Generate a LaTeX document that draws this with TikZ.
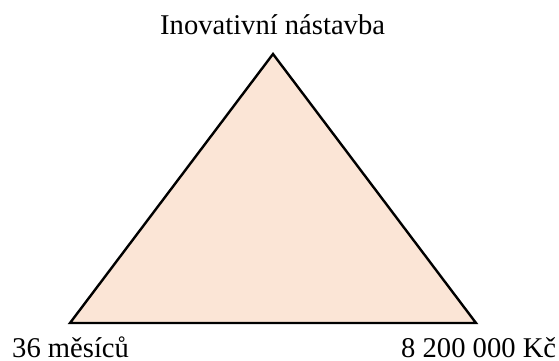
\documentclass[tikz,border=0pt]{standalone}
\usepackage{fontspec}
\setmainfont{Liberation Serif}
\definecolor{peach}{HTML}{FBE5D6}
\begin{document}
\begin{tikzpicture}[x=1pt,y=1pt,
  lbl/.style={inner sep=0pt,font=\fontsize{28.6}{32}\selectfont}]
\useasboundingbox (0,0) rectangle (559,360);
\coordinate (A) at (273,306);
\coordinate (L) at (70,37);
\coordinate (R) at (476,37);
\draw[line width=2.4pt,fill=peach,line join=miter] (L) -- (A) -- (R) -- cycle;
\node[lbl,anchor=base west] (top) at (160,326) {Inovativní nástavba};
\node[lbl,anchor=base west] (left) at (12,3) {36 měsíců};
\node[lbl,anchor=base west] (right) at (401,3) {8 200 000 Kč};
\end{tikzpicture}
\end{document}
